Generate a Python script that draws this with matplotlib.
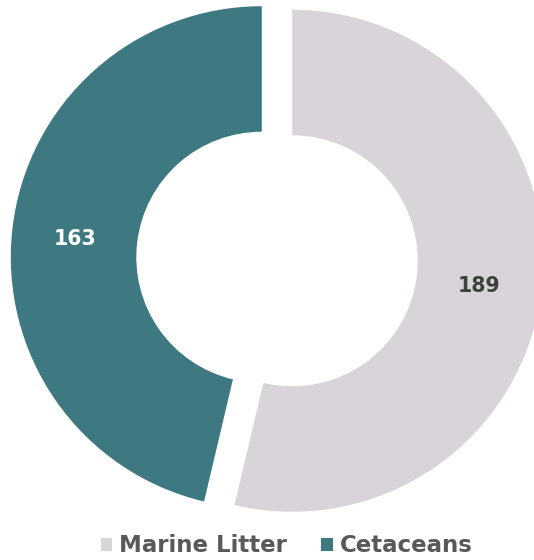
import matplotlib
matplotlib.use("Agg")
import matplotlib.pyplot as plt
from matplotlib.patches import Patch
import numpy as np

categories = ["Marine Litter", "Cetaceans"]
values = [189, 163]
colors = ["#D9D4DA", "#3E7880"]
label_colors = ["#404040", "#FFFFFF"]

fig = plt.figure(figsize=(5.34, 5.6), dpi=100)
ax = fig.add_axes([0, 0, 1, 1])

wedges, texts = ax.pie(
    values,
    colors=colors,
    startangle=90,
    counterclock=False,
    explode=[0.061, 0.061],
    radius=1.0,
    wedgeprops=dict(width=0.5, edgecolor="none"),
    frame=True,
)
ax.set_xlim(-277 / 251, (534 - 277) / 251)
ax.set_ylim(-(560 - 259) / 251, 259 / 251)
ax.axis("off")

total = sum(values)
start = 90.0
for w, v, c in zip(wedges, values, label_colors):
    ang = start - v / total * 360 / 2
    start -= v / total * 360
    cx, cy = w.center
    r = 0.75
    ax.text(cx + r * np.cos(np.radians(ang)), cy + r * np.sin(np.radians(ang)) - 0.014,
            str(v), ha="center", va="center", color=c,
            fontsize=14.8, fontweight="bold", family="DejaVu Sans")

handles = [Patch(facecolor=col, edgecolor="none") for col in colors]
leg = fig.legend(handles, categories, loc="center", ncol=2,
                 bbox_to_anchor=(0.537, 1 - 546 / 560), frameon=False,
                 handlelength=0.5, handleheight=0.5, handletextpad=0.3,
                 columnspacing=1.5, borderpad=0,
                 prop=dict(size=16.5, weight="bold", family="DejaVu Sans"))
for t in leg.get_texts():
    t.set_color("#595959")

fig.savefig("out.png", dpi=100)
